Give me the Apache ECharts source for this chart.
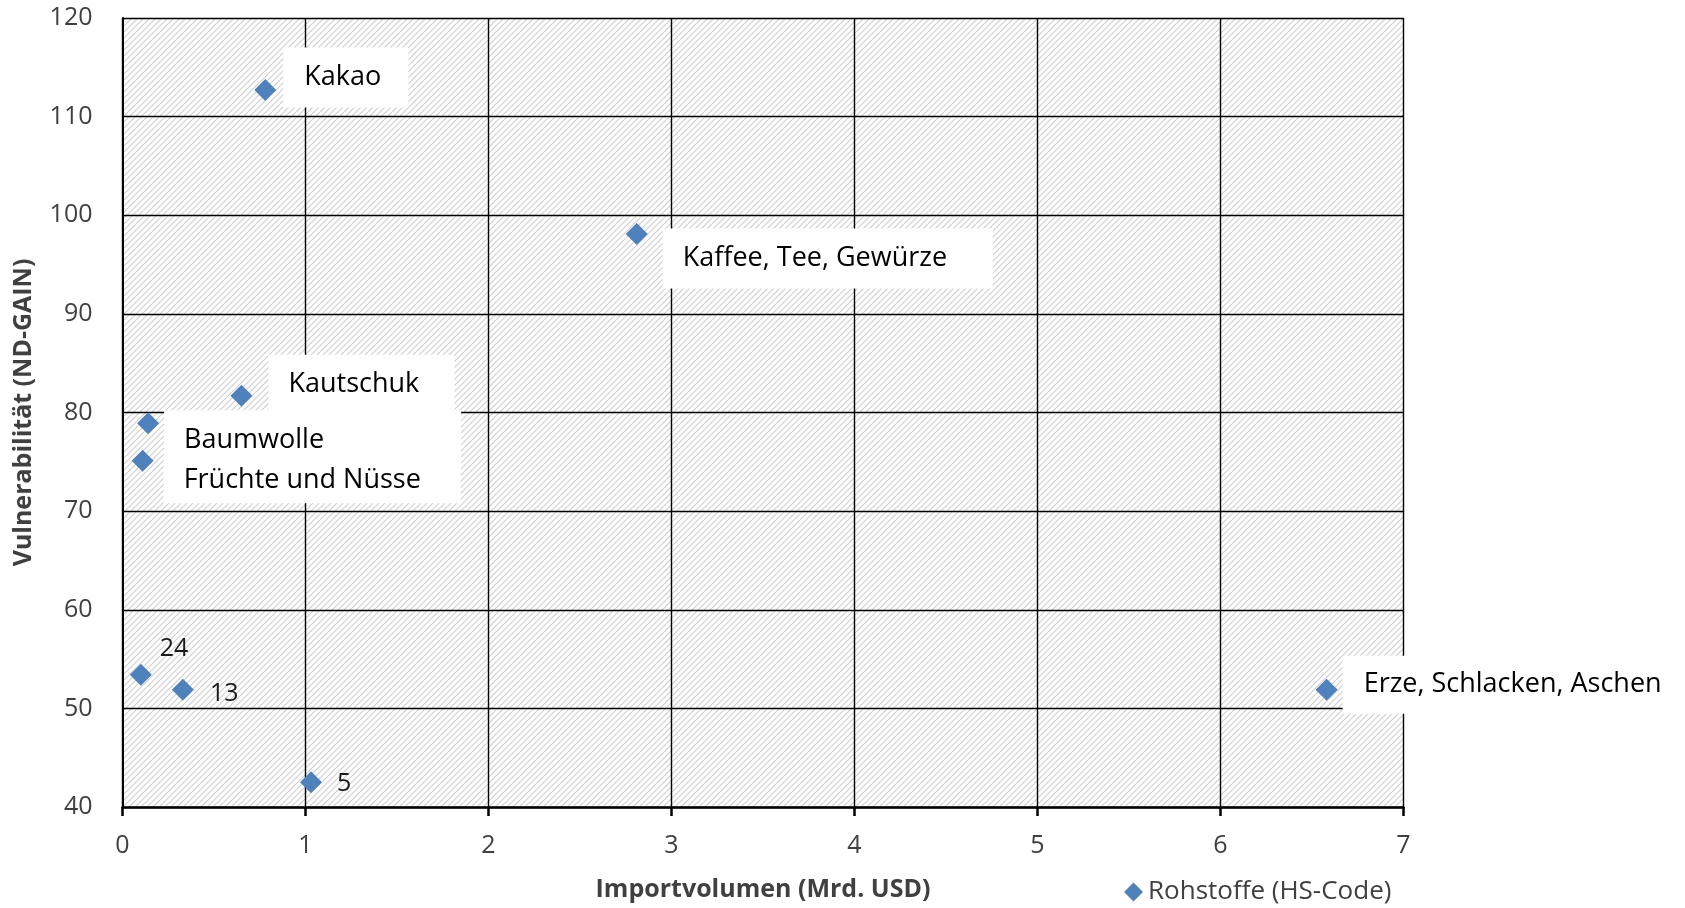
<!DOCTYPE html>
<html lang="de">
<head>
<meta charset="utf-8">
<title>Rohstoffe: Importvolumen und Vulnerabilität</title>
<script src="https://cdn.jsdelivr.net/npm/echarts@6/dist/echarts.min.js"></script>
<style>
  html, body { margin: 0; padding: 0; background: #fff; }
  #chart { width: 1685px; height: 908px; }
</style>
</head>
<body>
<div id="chart"></div>
<script>
// Rohstoffgruppen (HS-Code) mit Importvolumen und ND-GAIN-Vulnerabilität
const commodityNames = ['Kakao', 'Kaffee, Tee, Gewürze', 'Kautschuk', 'Baumwolle',
  'Früchte und Nüsse', '24', '13', '5', 'Erze, Schlacken, Aschen'];
const importVolume = [0.78, 2.81, 0.65, 0.14, 0.11, 0.10, 0.33, 1.03, 6.58];   // Mrd. USD
const vulnerability = [112.7, 98.1, 81.7, 78.9, 75.1, 53.4, 51.9, 42.5, 51.9]; // ND-GAIN
const seriesName = 'Rohstoffe (HS-Code)';
const xAxisTitle = 'Importvolumen (Mrd. USD)';
const yAxisTitle = 'Vulnerabilität (ND-GAIN)';
const xRange = { min: 0, max: 7, step: 1 };
const yRange = { min: 40, max: 120, step: 10 };

// Placement of the data labels (white boxes for the named groups)
const labelPlacement = {
  'Kakao':                   { dx: 7,  dy: -12.5, w: 104, pad: [16, 0, 16, 21], box: true },
  'Kaffee, Tee, Gewürze':    { dx: 15, dy: 24.5,  w: 310, pad: [16, 0, 16, 20], box: true },
  'Kautschuk':               { dx: 16, dy: -11,   w: 166, pad: [16, 0, 16, 20], box: true },
  'Baumwolle':               { dx: 5,  dy: 17,    w: 277, pad: [16, 0, 16, 20], box: true },
  'Früchte und Nüsse':       { dx: 10, dy: 19,    w: 277, pad: [14, 0, 5, 20],  box: true },
  '24':                      { dx: 8,  dy: -26 },
  '13':                      { dx: 16, dy: 4 },
  '5':                       { dx: 15, dy: 2 },
  'Erze, Schlacken, Aschen': { dx: 5,  dy: -5,    w: 323, pad: [15, 0, 15, 21], box: true }
};

const FONT = '"Open Sans", "Noto Sans", sans-serif';
const MARK_SIZE = 22;

// Light upward-diagonal hatch used as the plot-area fill
function hatchPattern() {
  const s = 6;
  const c = document.createElement('canvas');
  c.width = s; c.height = s;
  const g = c.getContext('2d');
  g.fillStyle = '#ffffff';
  g.fillRect(0, 0, s, s);
  g.strokeStyle = '#cfcfcf';
  g.lineWidth = 1.15;
  g.beginPath();
  g.moveTo(-1, s + 1); g.lineTo(s + 1, -1);
  g.moveTo(-1, 1); g.lineTo(1, -1);
  g.moveTo(s - 1, s + 1); g.lineTo(s + 1, s - 1);
  g.stroke();
  return { image: c, repeat: 'repeat' };
}

function labelFor(name) {
  const p = labelPlacement[name];
  const base = {
    show: true,
    formatter: '{b}',
    position: 'right',
    distance: 0,
    offset: [p.dx, p.dy],
    fontFamily: FONT,
    fontSize: 27,
    lineHeight: 28
  };
  if (p.box) {
    return Object.assign(base, {
      color: '#000000',
      backgroundColor: '#ffffff',
      width: p.w,
      overflow: 'none',
      padding: p.pad
    });
  }
  return Object.assign(base, { color: '#1a1a1a', fontSize: 25 });
}

const points = commodityNames.map((name, i) => ({
  name: name,
  value: [importVolume[i], vulnerability[i]],
  label: labelFor(name)
}));

const chart = echarts.init(document.getElementById('chart'), null, { renderer: 'canvas' });

chart.setOption({
  backgroundColor: '#ffffff',
  animation: false,
  textStyle: { fontFamily: FONT },
  grid: {
    left: 122.5, top: 18, width: 1281, height: 789,
    show: true,
    backgroundColor: hatchPattern(),
    borderWidth: 0
  },
  legend: {
    data: [{ name: seriesName, icon: 'diamond' }],
    left: 1119, top: 874,
    itemWidth: 19, itemHeight: 19,
    itemGap: 10,
    textStyle: { fontFamily: FONT, fontSize: 26, color: '#404040' }
  },
  xAxis: {
    type: 'value',
    min: xRange.min, max: xRange.max, interval: xRange.step,
    name: xAxisTitle,
    nameLocation: 'middle',
    nameGap: 70,
    nameTextStyle: { fontFamily: FONT, fontSize: 25, fontWeight: 'bold', color: '#404040', lineHeight: 26 },
    axisLine: { show: true, onZero: false, lineStyle: { color: '#000000', width: 2.5 } },
    axisTick: { show: true, inside: false, length: 9, lineStyle: { color: '#000000', width: 2.5 } },
    axisLabel: { margin: 26, fontFamily: FONT, fontSize: 25, color: '#404040' },
    splitLine: { show: true, lineStyle: { color: '#000000', width: 1.4 } }
  },
  yAxis: {
    type: 'value',
    min: yRange.min, max: yRange.max, interval: yRange.step,
    name: yAxisTitle,
    nameLocation: 'middle',
    nameGap: 86,
    nameRotate: 90,
    nameTextStyle: { fontFamily: FONT, fontSize: 25, fontWeight: 'bold', color: '#404040', lineHeight: 26 },
    axisLine: { show: true, onZero: false, lineStyle: { color: '#000000', width: 2 } },
    axisTick: { show: false },
    axisLabel: { margin: 30, fontFamily: FONT, fontSize: 25, color: '#404040' },
    splitLine: { show: true, lineStyle: { color: '#000000', width: 1.4 } }
  },
  series: [{
    name: seriesName,
    type: 'scatter',
    symbol: 'diamond',
    symbolSize: MARK_SIZE,
    itemStyle: { color: '#4F81BD', opacity: 1 },
    emphasis: { disabled: true },
    clip: false,
    data: points
  }]
});
</script>
</body>
</html>
